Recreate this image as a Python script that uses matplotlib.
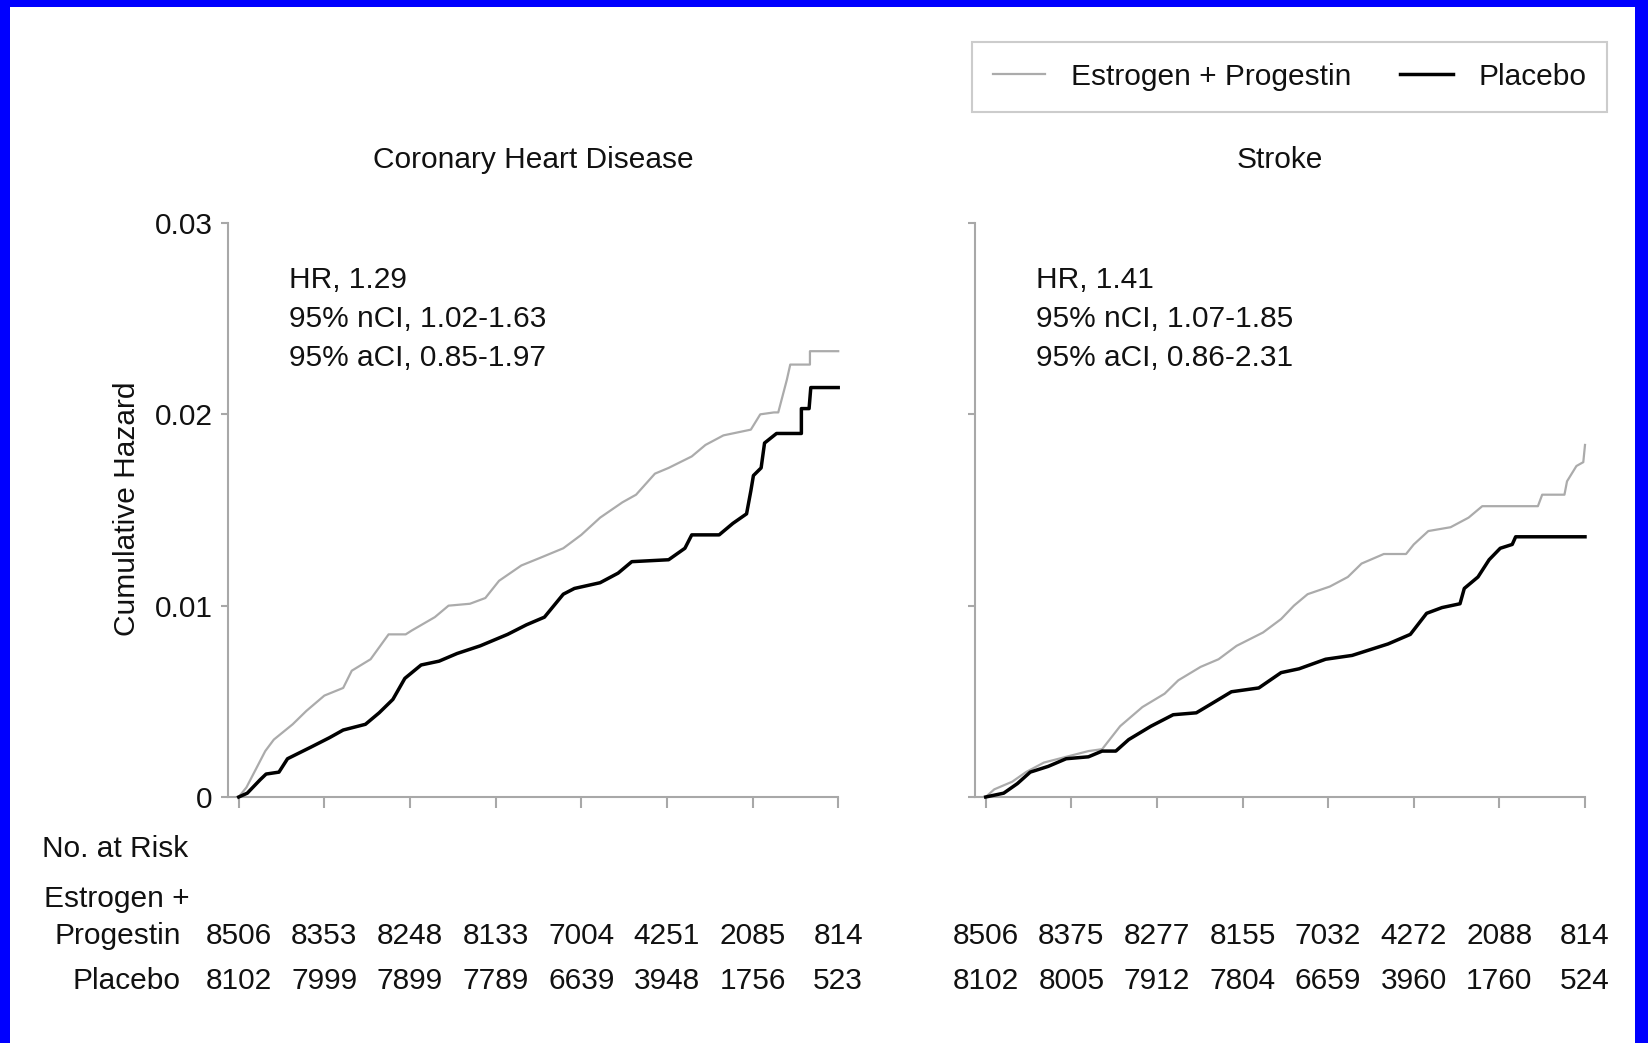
import matplotlib
matplotlib.use("Agg")
import matplotlib.pyplot as plt
from matplotlib.patches import Rectangle
from matplotlib.lines import Line2D
import matplotlib.transforms as mtransforms

# ---------------- data ----------------
years = [0, 1, 2, 3, 4, 5, 6, 7]

# curve vertices (years, cumulative hazard)
chd_ep_t = [0, 0.09, 0.31, 0.41, 0.63, 0.79, 1.0, 1.22, 1.32, 1.54, 1.75, 1.95, 2.02, 2.29,
            2.45, 2.70, 2.88, 3.04, 3.30, 3.52, 3.79, 4.0, 4.22, 4.48, 4.64, 4.86, 5.02,
            5.29, 5.45, 5.66, 5.98, 6.09, 6.25, 6.30, 6.40, 6.44, 6.67, 6.67, 7.0]
chd_ep_h = [0, 0.0005, 0.0024, 0.0030, 0.0038, 0.0045, 0.0053, 0.0057, 0.0066, 0.0072, 0.0085,
            0.0085, 0.0087, 0.0094, 0.0100, 0.0101, 0.0104, 0.0113, 0.0121, 0.0125, 0.0130,
            0.0137, 0.0146, 0.0154, 0.0158, 0.0169, 0.0172, 0.0178, 0.0184, 0.0189, 0.0192,
            0.0200, 0.0201, 0.0201, 0.0218, 0.0226, 0.0226, 0.0233, 0.0233]

chd_pl_t = [0, 0.10, 0.25, 0.32, 0.47, 0.57, 0.84, 1.06, 1.22, 1.48, 1.64, 1.80, 1.94, 2.13,
            2.34, 2.55, 2.82, 3.14, 3.36, 3.57, 3.79, 3.92, 4.22, 4.43, 4.59, 5.02, 5.21,
            5.29, 5.61, 5.77, 5.93, 5.98, 6.01, 6.10, 6.14, 6.28, 6.57, 6.57, 6.66, 6.68, 7.0]
chd_pl_h = [0, 0.0002, 0.0009, 0.0012, 0.0013, 0.0020, 0.0026, 0.0031, 0.0035, 0.0038, 0.0044,
            0.0051, 0.0062, 0.0069, 0.0071, 0.0075, 0.0079, 0.0085, 0.0090, 0.0094, 0.0106,
            0.0109, 0.0112, 0.0117, 0.0123, 0.0124, 0.0130, 0.0137, 0.0137, 0.0143, 0.0148,
            0.0160, 0.0168, 0.0172, 0.0185, 0.0190, 0.0190, 0.0203, 0.0203, 0.0214, 0.0214]

stk_ep_t = [0, 0.10, 0.31, 0.47, 0.68, 0.94, 1.2, 1.36, 1.57, 1.83, 2.09, 2.25, 2.51, 2.72,
            2.93, 3.24, 3.45, 3.60, 3.76, 4.02, 4.23, 4.39, 4.65, 4.91, 5.0, 5.17, 5.43,
            5.64, 5.80, 6.45, 6.50, 6.76, 6.79, 6.90, 6.98, 7.0]
stk_ep_h = [0, 0.0004, 0.0008, 0.0013, 0.0018, 0.0021, 0.0024, 0.0025, 0.0037, 0.0047, 0.0054,
            0.0061, 0.0068, 0.0072, 0.0079, 0.0086, 0.0093, 0.0100, 0.0106, 0.0110, 0.0115,
            0.0122, 0.0127, 0.0127, 0.0132, 0.0139, 0.0141, 0.0146, 0.0152, 0.0152, 0.0158,
            0.0158, 0.0165, 0.0173, 0.0175, 0.0184]

stk_pl_t = [0, 0.21, 0.37, 0.52, 0.73, 0.94, 1.2, 1.36, 1.52, 1.67, 1.93, 2.19, 2.46, 2.61,
            2.87, 3.19, 3.45, 3.66, 3.97, 4.28, 4.49, 4.70, 4.96, 5.15, 5.33, 5.54, 5.59,
            5.75, 5.88, 6.01, 6.15, 6.19, 7.0]
stk_pl_h = [0, 0.0002, 0.0007, 0.0013, 0.0016, 0.0020, 0.0021, 0.0024, 0.0024, 0.0030, 0.0037,
            0.0043, 0.0044, 0.0048, 0.0055, 0.0057, 0.0065, 0.0067, 0.0072, 0.0074, 0.0077,
            0.0080, 0.0085, 0.0096, 0.0099, 0.0101, 0.0109, 0.0115, 0.0124, 0.0130, 0.0132,
            0.0136, 0.0136]

chd_risk_ep = ["8506", "8353", "8248", "8133", "7004", "4251", "2085", "814"]
chd_risk_pl = ["8102", "7999", "7899", "7789", "6639", "3948", "1756", "523"]
stk_risk_ep = ["8506", "8375", "8277", "8155", "7032", "4272", "2088", "814"]
stk_risk_pl = ["8102", "8005", "7912", "7804", "6659", "3960", "1760", "524"]

titles = ["Coronary Heart Disease", "Stroke"]
hr_texts = ["HR, 1.29\n95% nCI, 1.02-1.63\n95% aCI, 0.85-1.97",
            "HR, 1.41\n95% nCI, 1.07-1.85\n95% aCI, 0.86-2.31"]
yticks = [0, 0.01, 0.02, 0.03]
ytick_labels = ["0", "0.01", "0.02", "0.03"]

# ---------------- style ----------------
plt.rcParams['font.family'] = ['Liberation Sans', 'DejaVu Sans']
FS = 21.5
TXT = '#111111'
GRAY_LINE = '#ababab'
SPINE = '#a8a8a8'

W, H = 1649, 1043
fig = plt.figure(figsize=(W / 100, H / 100), dpi=100)
fig.patch.set_facecolor('#0000ff')
fig.add_artist(Rectangle((10 / W, 0), (W - 14 - 10) / W, (H - 7) / H,
                         transform=fig.transFigure, facecolor='white',
                         edgecolor='none', zorder=-10))

def fx(px):
    return px / W

def fy(py):
    return 1 - py / H

ax_bottom = fy(797)
ax_h = fy(223) - fy(797)
axes_specs = [(228, 838.2), (975, 1585)]
xmin = -0.125

series = [((chd_ep_t, chd_ep_h), (chd_pl_t, chd_pl_h), chd_risk_ep, chd_risk_pl),
          ((stk_ep_t, stk_ep_h), (stk_pl_t, stk_pl_h), stk_risk_ep, stk_risk_pl)]

for i, ((l, r), (ep, pl, rk_ep, rk_pl)) in enumerate(zip(axes_specs, series)):
    ax = fig.add_axes([fx(l), ax_bottom, fx(r) - fx(l), ax_h])
    ax.set_facecolor('none')
    ax.set_xlim(xmin, 7.0)
    ax.set_ylim(0, 0.03)
    ax.plot(ep[0], ep[1], color=GRAY_LINE, lw=1.6, clip_on=False, zorder=3)
    ax.plot(pl[0], pl[1], color='black', lw=2.5, clip_on=False, zorder=4)
    for s in ['top', 'right']:
        ax.spines[s].set_visible(False)
    for s in ['left', 'bottom']:
        ax.spines[s].set_color(SPINE)
        ax.spines[s].set_linewidth(1.5)
    ax.set_xticks(years)
    ax.set_xticklabels([])
    ax.tick_params(axis='x', direction='out', length=8, width=1.5, color=SPINE)
    ax.set_yticks(yticks)
    if i == 0:
        ax.set_yticklabels(ytick_labels, fontsize=FS, color=TXT)
    else:
        ax.set_yticklabels([])
    ax.tick_params(axis='y', direction='out', length=5, width=1.5, color=SPINE, pad=6)
    fig.text((fx(l) + fx(r)) / 2, fy(160), titles[i], fontsize=FS, color=TXT,
             ha='center', va='center')
    hx = [289, 1036][i]
    for k, line in enumerate(hr_texts[i].split("\n")):
        fig.text(fx(hx), fy(280 + 39 * k), line, fontsize=FS, color=TXT,
                 ha='left', va='center')
    trans = mtransforms.blended_transform_factory(ax.transData, fig.transFigure)
    for x, a, b in zip(years, rk_ep, rk_pl):
        ax.text(x, fy(936), a, transform=trans, fontsize=FS, color=TXT,
                ha='center', va='center')
        ax.text(x, fy(981), b, transform=trans, fontsize=FS, color=TXT,
                ha='center', va='center')

fig.text(fx(127), fy(509), "Cumulative Hazard", fontsize=FS, color=TXT,
         rotation=90, ha='center', va='center')
fig.text(fx(42), fy(849), "No. at Risk", fontsize=FS, color=TXT, ha='left', va='center')
fig.text(fx(44), fy(899), "Estrogen +", fontsize=FS, color=TXT, ha='left', va='center')
fig.text(fx(181), fy(936), "Progestin", fontsize=FS, color=TXT, ha='right', va='center')
fig.text(fx(181), fy(981), "Placebo", fontsize=FS, color=TXT, ha='right', va='center')

handles = [Line2D([], [], color=GRAY_LINE, lw=1.6), Line2D([], [], color='black', lw=2.5)]
leg = fig.legend(handles, ["Estrogen + Progestin", "Placebo"], ncol=2,
                 loc='upper right', bbox_to_anchor=(fx(1607), fy(42)),
                 fontsize=FS, frameon=True, fancybox=False, handlelength=1.75,
                 handletextpad=0.85, columnspacing=1.65, borderpad=0.7,
                 borderaxespad=0)
leg.get_frame().set_edgecolor('#c0c0c0')
leg.get_frame().set_linewidth(1.5)
for t in leg.get_texts():
    t.set_color(TXT)

fig.savefig("out.png", dpi=100, facecolor=fig.get_facecolor())
